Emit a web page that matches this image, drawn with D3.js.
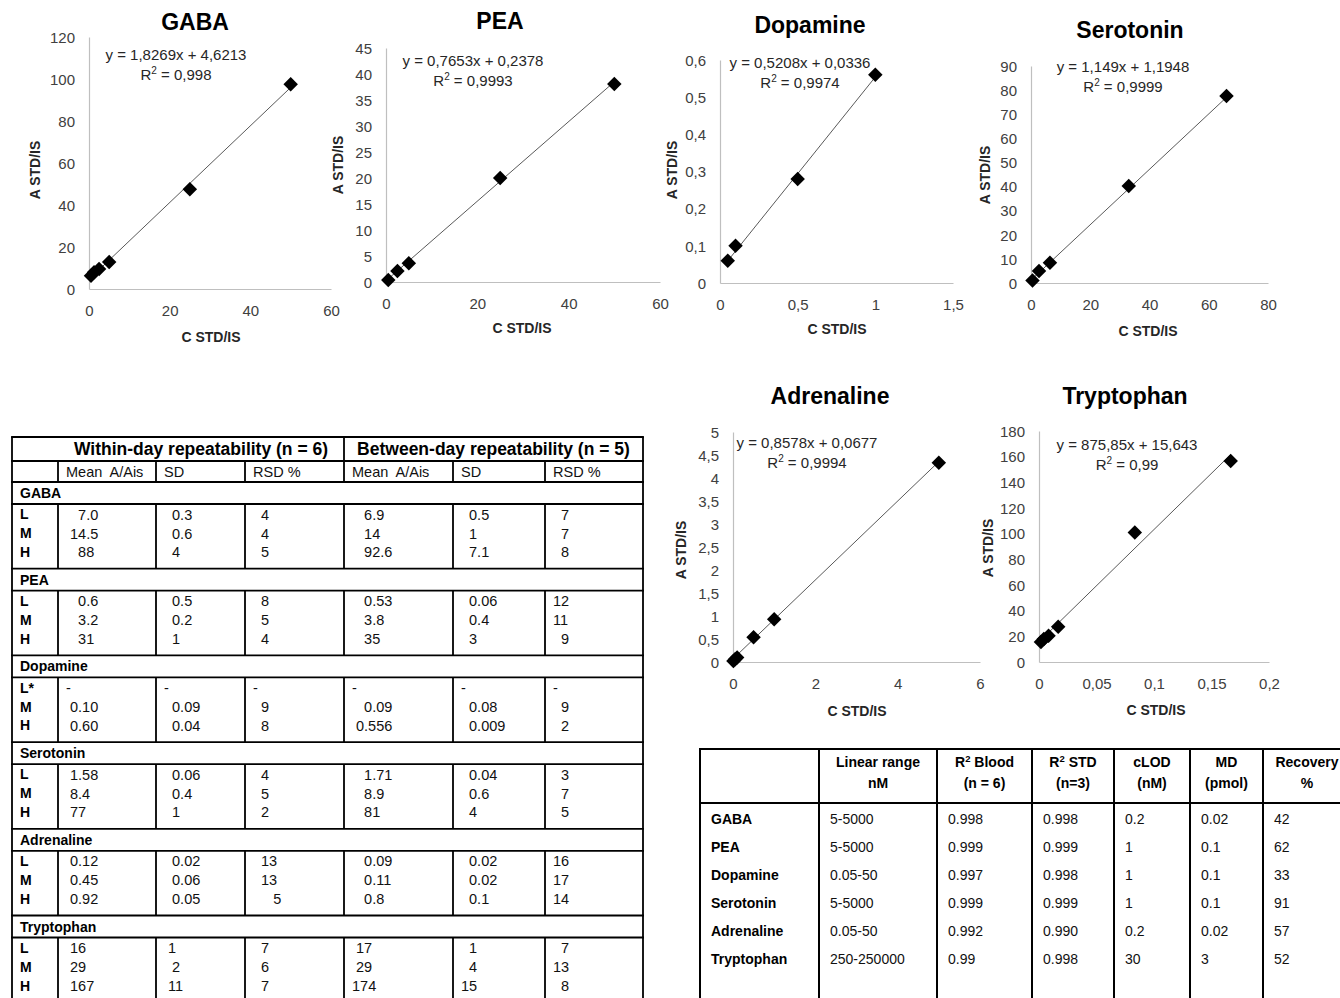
<!DOCTYPE html>
<html><head><meta charset="utf-8">
<script src="https://cdn.jsdelivr.net/npm/d3@7"></script>
<style>
html,body{margin:0;padding:0;background:#fff;}
svg{display:block;font-family:"Liberation Sans",Arial,sans-serif;}
.pre{white-space:pre;}
</style></head><body>
<svg id="c" width="1340" height="998"></svg>
<script>
// ---------- calibration curve data ----------
const chartNames = ["GABA","PEA","Dopamine","Serotonin","Adrenaline","Tryptophan"];
const gabaX = [0.5, 1.25, 2.5, 5, 25, 50];
const gabaY = [6.3, 8, 9.5, 12.9, 47.5, 97.5];
const peaX = [0.5, 2.5, 5, 25, 50];
const peaY = [0.4, 2.1, 3.6, 20, 38.1];
const dopX = [0.05, 0.1, 0.5, 1];
const dopY = [0.06, 0.1, 0.28, 0.56];
const serX = [0.5, 2.7, 6.4, 33, 66];
const serY = [1, 5, 8.4, 40.2, 77.6];
const adrX = [0.01, 0.05, 0.1, 0.5, 1, 5];
const adrY = [0.02, 0.06, 0.1, 0.54, 0.93, 4.33];
const tryX = [0.0017, 0.0042, 0.0083, 0.0167, 0.0833, 0.1667];
const tryY = [15.6, 18, 20.5, 27.5, 101, 156.7];
const trendSlope = [1.8269, 0.7653, 0.5208, 1.149, 0.8578, 875.85];
const trendIntercept = [4.6213, 0.2378, 0.0336, 1.1948, 0.0677, 15.643];
const r2Values = ["0,998", "0,9993", "0,9974", "0,9999", "0,9994", "0,99"];
const xAxisMax = [60, 60, 1.5, 80, 6, 0.2];
const xAxisStep = [20, 20, 0.5, 20, 2, 0.05];
const yAxisMax = [120, 45, 0.6, 90, 5, 180];
const yAxisStep = [20, 5, 0.1, 10, 0.5, 20];
const xAxisTitle = "C STD/IS";
const yAxisTitle = "A STD/IS";

// ---------- repeatability table ----------
const repAnalytes = ["GABA","PEA","Dopamine","Serotonin","Adrenaline","Tryptophan"];
const repLevels = [["L","M","H"],["L","M","H"],["L*","M","H"],["L","M","H"],["L","M","H"],["L","M","H"]];
const repGroupHeaders = ["Within-day repeatability (n = 6)", "Between-day repeatability (n = 5)"];
const repColHeaders = ["Mean  A/Ais","SD","RSD %","Mean  A/Ais","SD","RSD %"];
const withinMean = [["   7.0"," 14.5","   88"],["   0.6","   3.2","   31"],["-"," 0.10"," 0.60"],[" 1.58"," 8.4"," 77"],[" 0.12"," 0.45"," 0.92"],[" 16"," 29"," 167"]];
const withinSD = [["  0.3","  0.6","  4"],["  0.5","  0.2","  1"],["-","  0.09","  0.04"],["  0.06","  0.4","  1"],["  0.02","  0.06","  0.05"],[" 1","  2"," 11"]];
const withinRSD = [["  4","  4","  5"],["  8","  5","  4"],["-","  9","  8"],["  4","  5","  2"],["  13","  13","     5"],["  7","  6","  7"]];
const betweenMean = [["   6.9","   14","   92.6"],["   0.53","   3.8","   35"],["-","   0.09"," 0.556"],["   1.71","   8.9","   81"],["   0.09","   0.11","   0.8"],[" 17"," 29","174"]];
const betweenSD = [["  0.5","  1","  7.1"],["  0.06","  0.4","  3"],["-","  0.08","  0.009"],["  0.04","  0.6","  4"],["  0.02","  0.02","  0.1"],["  1","  4","15"]];
const betweenRSD = [["  7","  7","  8"],["12","11","  9"],["-","  9","  2"],["  3","  7","  5"],["16","17","14"],["  7","13","  8"]];

// ---------- summary table ----------
const sumAnalytes = ["GABA","PEA","Dopamine","Serotonin","Adrenaline","Tryptophan"];
const sumHeaders = [["",""],["Linear range","nM"],["R|2| Blood","(n = 6)"],["R|2| STD","(n=3)"],["cLOD","(nM)"],["MD","(pmol)"],["Recovery","%"]];
const linearRange = ["5-5000","5-5000","0.05-50","5-5000","0.05-50","250-250000"];
const r2Blood = ["0.998","0.999","0.997","0.999","0.992","0.99"];
const r2Std = ["0.998","0.999","0.998","0.999","0.990","0.998"];
const cLOD = ["0.2","1","1","1","0.2","30"];
const mdPmol = ["0.02","0.1","0.1","0.1","0.02","3"];
const recovery = ["42","62","33","91","57","52"];

// ================== drawing ==================
const svg = d3.select("#c");
svg.append("rect").attr("width",1340).attr("height",998).attr("fill","#fff");

const loc = d3.formatLocale({decimal:",", thousands:".", grouping:[3], currency:["",""]});
const fmt = loc.format("~g");
const comma = v => String(v).replace(".", ",");

const seriesX = [gabaX, peaX, dopX, serX, adrX, tryX];
const seriesY = [gabaY, peaY, dopY, serY, adrY, tryY];

const layout = [
  {l:89,  r:331,  t:37,  b:289, tx:195,  ty:30,  ex:176,  ey:60,  ya:[35,170],  xa:[211,342]},
  {l:386, r:660,  t:48,  b:282, tx:500,  ty:29,  ex:473,  ey:66,  ya:[338,165], xa:[522,333]},
  {l:720, r:953,  t:60,  b:283, tx:810,  ty:33,  ex:800,  ey:68,  ya:[672,170], xa:[837,334]},
  {l:1031,r:1268, t:66,  b:283, tx:1130, ty:38,  ex:1123, ey:72,  ya:[985,175], xa:[1148,336]},
  {l:733, r:980,  t:432, b:662, tx:830,  ty:404, ex:807,  ey:448, ya:[681,550], xa:[857,716]},
  {l:1039,r:1269, t:431, b:662, tx:1125, ty:404, ex:1127, ey:450, ya:[988,548], xa:[1156,715]}
];

const tickVals = (max, step) => d3.range(0, Math.round(max/step)+1).map(i => +(i*step).toFixed(6));

chartNames.forEach((name, i) => {
  const L = layout[i];
  const g = svg.append("g");
  const x = d3.scaleLinear().domain([0, xAxisMax[i]]).range([L.l, L.r]);
  const y = d3.scaleLinear().domain([0, yAxisMax[i]]).range([L.b, L.t]);

  g.append("text").attr("x", L.tx).attr("y", L.ty).attr("text-anchor","middle")
    .attr("font-size", 23).attr("font-weight","bold").attr("fill","#000").text(name);

  const xAxis = d3.axisBottom(x).tickValues(tickVals(xAxisMax[i], xAxisStep[i])).tickFormat(fmt).tickSize(0).tickPadding(16);
  const yAxis = d3.axisLeft(y).tickValues(tickVals(yAxisMax[i], yAxisStep[i])).tickFormat(fmt).tickSize(0).tickPadding(14);
  const gx = g.append("g").attr("transform", `translate(0,${L.b})`).call(xAxis);
  const gy = g.append("g").attr("transform", `translate(${L.l},0)`).call(yAxis);
  [gx, gy].forEach(a => {
    a.select(".domain").attr("stroke","#bfbfbf").attr("stroke-width",1.2);
    a.selectAll("text").attr("font-size",15).attr("fill","#404040").attr("font-family",'"Liberation Sans",Arial,sans-serif');
  });
  gy.selectAll("text").attr("dy","0.35em");

  g.append("text").attr("transform", `translate(${L.ya[0]},${L.ya[1]}) rotate(-90)`)
    .attr("text-anchor","middle").attr("dy","0.35em").attr("font-size",14).attr("font-weight","bold").attr("fill","#262626").text(yAxisTitle);
  g.append("text").attr("x", L.xa[0]).attr("y", L.xa[1]).attr("text-anchor","middle")
    .attr("font-size",14).attr("font-weight","bold").attr("fill","#262626").text(xAxisTitle);

  const xs = seriesX[i];
  const x0 = d3.min(xs), x1 = d3.max(xs);
  const f = v => trendSlope[i]*v + trendIntercept[i];
  g.append("line").attr("x1", x(x0)).attr("y1", y(f(x0))).attr("x2", x(x1)).attr("y2", y(f(x1)))
    .attr("stroke","#595959").attr("stroke-width",1);

  const sym = d3.symbol(d3.symbolSquare, 105);
  g.selectAll("path.pt").data(xs.map((v,k) => [v, seriesY[i][k]])).join("path")
    .attr("class","pt").attr("d", sym)
    .attr("transform", d => `translate(${x(d[0])},${y(d[1])}) rotate(45)`)
    .attr("fill","#000");

  g.append("text").attr("x", L.ex).attr("y", L.ey).attr("text-anchor","middle").attr("font-size",15).attr("fill","#262626")
    .text(`y = ${comma(trendSlope[i])}x + ${comma(trendIntercept[i])}`);
  const r2t = g.append("text").attr("x", L.ex).attr("y", L.ey+20).attr("text-anchor","middle").attr("font-size",15).attr("fill","#262626");
  r2t.append("tspan").text("R");
  r2t.append("tspan").attr("font-size",10).attr("dy",-6).text("2");
  r2t.append("tspan").attr("dy",6).text(` = ${r2Values[i]}`);
});

// ---------- repeatability table ----------
(function(){
  const g = svg.append("g");
  const cols = [12, 58, 156, 245, 344, 453, 545, 643];
  const top = 437, h1 = 461, h2 = 482, sec = 86.7, lab = 22, bottom = 1005;
  const sw = 1.8, fs = 14.5;
  const hl = (x1,x2,yy) => g.append("line").attr("x1",x1).attr("x2",x2).attr("y1",yy).attr("y2",yy).attr("stroke","#000").attr("stroke-width",sw);
  const vl = (xx,y1,y2) => g.append("line").attr("x1",xx).attr("x2",xx).attr("y1",y1).attr("y2",y2).attr("stroke","#000").attr("stroke-width",sw);
  [top, h1, h2].forEach(yy => hl(cols[0]-0.9, cols[7]+0.9, yy));
  vl(cols[0], top, bottom); vl(cols[7], top, bottom);
  vl(cols[4], top, h1);
  cols.slice(1,7).forEach(c => vl(c, h1, h2));
  repAnalytes.forEach((a, s) => {
    const st = h2 + sec*s;
    hl(cols[0]-0.9, cols[7]+0.9, st);
    hl(cols[0]-0.9, cols[7]+0.9, st+lab);
    cols.slice(1,7).forEach(c => vl(c, st+lab, st+sec));
  });
  g.append("text").attr("x",(cols[1]+cols[4])/2).attr("y",(top+h1)/2).attr("dy","0.36em").attr("text-anchor","middle")
    .attr("font-size",17.5).attr("font-weight","bold").text(repGroupHeaders[0]);
  g.append("text").attr("x",(cols[4]+cols[7])/2).attr("y",(top+h1)/2).attr("dy","0.36em").attr("text-anchor","middle")
    .attr("font-size",17.5).attr("font-weight","bold").text(repGroupHeaders[1]);
  repColHeaders.forEach((h,k) => {
    g.append("text").attr("class","pre").attr("x",cols[k+1]+8).attr("y",(h1+h2)/2).attr("dy","0.36em")
      .attr("font-size",fs).attr("fill","#111").text(h);
  });
  const valueCols = [withinMean, withinSD, withinRSD, betweenMean, betweenSD, betweenRSD];
  const rowOff = [10.3, 29.3, 48];
  repAnalytes.forEach((a, s) => {
    const st = h2 + sec*s;
    g.append("text").attr("x",20).attr("y",st+lab/2).attr("dy","0.36em").attr("font-size",14).attr("font-weight","bold").text(a);
    repLevels[s].forEach((lv, r) => {
      const yy = st + lab + rowOff[r];
      g.append("text").attr("x",20).attr("y",yy).attr("dy","0.36em").attr("font-size",14).attr("font-weight","bold").text(lv);
      valueCols.forEach((vc, k) => {
        g.append("text").attr("class","pre").attr("x",cols[k+1]+8).attr("y",yy).attr("dy","0.36em")
          .attr("font-size",fs).attr("fill","#111").text(vc[s][r]);
      });
    });
  });
})();

// ---------- summary table ----------
(function(){
  const g = svg.append("g");
  const cols = [700, 819, 937, 1032, 1114, 1190, 1263, 1351];
  const top = 749, hb = 803, bottom = 1005, sw = 2;
  const hl = (x1,x2,yy) => g.append("line").attr("x1",x1).attr("x2",x2).attr("y1",yy).attr("y2",yy).attr("stroke","#000").attr("stroke-width",sw);
  const vl = (xx,y1,y2) => g.append("line").attr("x1",xx).attr("x2",xx).attr("y1",y1).attr("y2",y2).attr("stroke","#000").attr("stroke-width",sw);
  hl(cols[0]-1, 1340, top); hl(cols[0]-1, 1340, hb);
  cols.slice(0,7).forEach(c => vl(c, top, bottom));
  sumHeaders.forEach((h, k) => {
    if (k === 0) return;
    const cx = (cols[k] + cols[k+1]) / 2;
    h.forEach((line, j) => {
      const t = g.append("text").attr("x", cx).attr("y", 762 + 21*j).attr("dy","0.36em").attr("text-anchor","middle")
        .attr("font-size",14).attr("font-weight","bold");
      const parts = line.split("|");
      if (parts.length === 3) {
        t.append("tspan").text(parts[0]);
        t.append("tspan").attr("font-size",9.5).attr("dy",-5).text(parts[1]);
        t.append("tspan").attr("dy",5).text(parts[2]);
      } else t.text(line);
    });
  });
  const valueCols = [linearRange, r2Blood, r2Std, cLOD, mdPmol, recovery];
  sumAnalytes.forEach((a, r) => {
    const yy = 819 + 28*r;
    g.append("text").attr("x",711).attr("y",yy).attr("dy","0.36em").attr("font-size",14).attr("font-weight","bold").text(a);
    valueCols.forEach((vc, k) => {
      g.append("text").attr("x",cols[k+1]+11).attr("y",yy).attr("dy","0.36em").attr("font-size",14).attr("fill","#111").text(vc[r]);
    });
  });
})();
</script>
</body></html>
